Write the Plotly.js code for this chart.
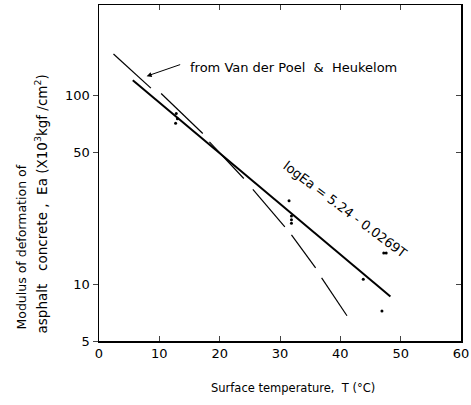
<!DOCTYPE html>
<html>
<head>
<meta charset="utf-8">
<script src="https://cdn.plot.ly/plotly-3.0.1.min.js"></script>
<style>html,body{margin:0;padding:0;background:#fff;}#chart{width:471px;height:405px;}</style>
</head>
<body>
<div id="chart"></div>
<script>
// Regression line logEa = 5.24 - 0.0269T (endpoints, x10^3 kgf/cm2)
const solidT = [5.6, 48.3];
const solidEa = [120, 8.6];

// Van der Poel & Heukelom curve (dashed segments, null = gap)
const vdpT  = [2.4, 8.6, null, 10.3, 17.2, null, 18.3, 24.0, null, 25.5, 30.8, null, 31.9, 35.9, null, 36.9, 41.1];
const vdpEa = [165, 109, null, 102, 62.7, null, 56.6, 36.2, null, 31.7, 20.1, null, 18.2, 12.2, null, 10.8, 6.8];

// Observed points
const obsT  = [12.8, 13.0, 12.7, 31.5, 31.9, 31.9, 31.9, 43.8, 47.2, 47.6, 46.9];
const obsEa = [80, 75, 71, 27.6, 22.9, 21.9, 21.0, 10.6, 14.6, 14.6, 7.2];

// Tick labels
const xTicks = [0, 10, 20, 30, 40, 50, 60];
const yTicks = [5, 10, 50, 100];
const yTickText = ['5', '10', '50', '100'];

const FONT = 'DejaVu Sans, sans-serif';
const L10 = Math.log10;
const S = '\u00A0';

const traces = [
  {x: solidT, y: solidEa, mode: 'lines', line: {color: '#000', width: 2}, hoverinfo: 'skip', showlegend: false},
  {x: vdpT, y: vdpEa, mode: 'lines', connectgaps: false, line: {color: '#000', width: 1.2}, hoverinfo: 'skip', showlegend: false},
  {x: obsT, y: obsEa, mode: 'markers', marker: {color: '#000', size: 3}, hoverinfo: 'skip', showlegend: false},
  {x: [null], y: [null], yaxis: 'y2', mode: 'lines', hoverinfo: 'skip', showlegend: false}
];

const plotL = 99, plotR = 461, plotT = 5, plotB = 341;
const W = 471, H = 405;
const px2paperX = px => (px - plotL) / (plotR - plotL);
const px2paperY = py => (plotB - py) / (plotB - plotT);

const layout = {
  width: W, height: H,
  margin: {l: plotL, r: W - plotR, t: plotT, b: H - plotB, pad: 0},
  paper_bgcolor: '#fff', plot_bgcolor: '#fff',
  font: {family: FONT, color: '#000', size: 13},
  xaxis: {
    range: [0, 60], tickvals: xTicks, ticks: 'inside', ticklen: 5, tickwidth: 1,
    showline: true, linewidth: 1.5, linecolor: '#000', mirror: 'ticks',
    showgrid: false, zeroline: false, tickfont: {size: 13}
  },
  yaxis: {
    type: 'log', range: [L10(5), 2.477], tickvals: yTicks, ticktext: yTickText,
    ticks: 'outside', ticklen: 5, tickwidth: 1,
    showline: true, linewidth: 1.5, linecolor: '#000', mirror: true,
    showgrid: false, zeroline: false, tickfont: {size: 13}
  },
  yaxis2: {
    type: 'log', range: [L10(5), 2.477], overlaying: 'y', side: 'right',
    tickvals: [10, 50, 100], ticks: 'inside', ticklen: 5, showticklabels: false,
    showline: false, showgrid: false, zeroline: false
  },
  annotations: [
    {xref: 'paper', yref: 'paper', x: px2paperX(292.5), y: px2paperY(388), xanchor: 'center', yanchor: 'middle',
     text: 'Surface' + S + 'temperature,' + S + S + 'T' + S + '(°C)', showarrow: false, font: {size: 11.5}},
    {xref: 'paper', yref: 'paper', x: px2paperX(21), y: px2paperY(332), xanchor: 'center', yanchor: 'bottom',
     text: 'Modulus' + S + 'of' + S + 'deformation' + S + 'of', textangle: -90, showarrow: false, font: {size: 12.5}},
    {xref: 'paper', yref: 'paper', x: px2paperX(41), y: px2paperY(336), xanchor: 'center', yanchor: 'bottom',
     text: 'asphalt' + S + S + S + 'concrete' + S + ',' + S + S + 'Ea' + S + '(X10<sup>3</sup>kgf' + S + '/cm<sup>2</sup>)',
     textangle: -90, showarrow: false, font: {size: 13.5}},
    {xref: 'x', yref: 'y', x: 14.75, y: L10(140.6), xanchor: 'left', yanchor: 'middle',
     text: 'from' + S + 'Van' + S + 'der' + S + 'Poel' + S + S + '&' + S + S + 'Heukelom', showarrow: false, font: {size: 13}},
    {xref: 'x', yref: 'y', x: 7.9, y: L10(126), axref: 'x', ayref: 'y', ax: 13.7, ay: L10(146),
     text: '', showarrow: true, arrowhead: 2, arrowsize: 1, arrowwidth: 1, arrowcolor: '#000'},
    {xref: 'x', yref: 'y', x: 40.8, y: L10(24.9), xanchor: 'center', yanchor: 'middle',
     text: 'logEa = 5.24 - 0.0269T', textangle: 37, showarrow: false, font: {size: 13}}
  ]
};

Plotly.newPlot('chart', traces, layout, {staticPlot: true, displayModeBar: false});
</script>
</body>
</html>
